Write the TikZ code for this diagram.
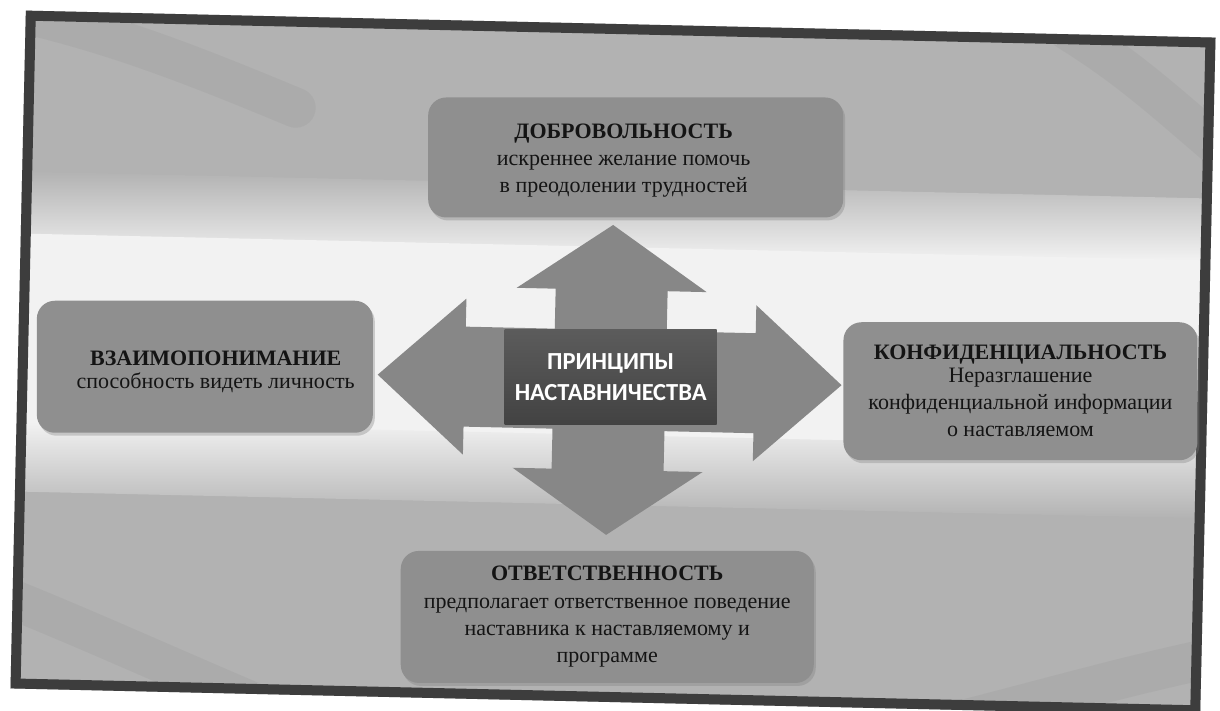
\documentclass[tikz,border=0pt]{standalone}
\usepackage{fontspec}
\setmainfont{Liberation Serif}
\newfontfamily\calib{Carlito}
\usetikzlibrary{shadows}
\definecolor{bggray}{gray}{0.70}
\definecolor{bandwhite}{gray}{0.95}
\definecolor{boxgray}{gray}{0.56}
\definecolor{arrowgray}{gray}{0.53}
\definecolor{centertop}{gray}{0.36}
\definecolor{centerbot}{gray}{0.26}
\definecolor{framegray}{gray}{0.24}
\definecolor{inkdark}{gray}{0.08}
\tikzset{
  infobox/.style={rounded corners=18pt, fill=boxgray, inner sep=0pt,
    drop shadow={opacity=0.35, shadow xshift=2pt, shadow yshift=-3pt}},
  infotext/.style={align=center, text=inkdark, inner sep=0pt,
    font=\fontsize{22}{27}\selectfont},
  swoosh/.style={line width=40pt, draw=black, opacity=0.035, line cap=round},
}
\newcommand{\boxtitle}[1]{{\fontsize{22}{27}\selectfont\bfseries #1}}
\begin{document}
\begin{tikzpicture}[x=1pt,y=-1pt]
\useasboundingbox (0,0) rectangle (1220,711);
\fill[white] (0,0) rectangle (1220,711);
\clip (0,0) rectangle (1220,711);
\begin{scope}[rotate around={-1.3:(613,363)}]
  % slide background
  \fill[bggray] (18,24) rectangle (1208,702);
  \shade[top color=bggray, bottom color=bandwhite] (18,185) rectangle (1208,248);
  \fill[bandwhite] (18,247) rectangle (1208,436);
  \shade[top color=bandwhite, bottom color=bggray] (18,435) rectangle (1208,505);
  % faint swooshes
  \begin{scope}
    \clip (18,24) rectangle (1208,702);
    \draw[swoosh] (10,610) .. controls (90,640) and (160,670) .. (260,710);
    \draw[swoosh] (960,715) .. controls (1050,690) and (1130,665) .. (1215,645);
    \draw[swoosh] (1060,20) .. controls (1120,55) and (1160,90) .. (1215,135);
    \draw[swoosh] (30,30) .. controls (120,50) and (200,80) .. (290,115);
  \end{scope}
  % frame
  \draw[framegray, line width=10pt] (23,29) rectangle (1203,697);

  % quad arrow
  \fill[arrowgray, shift={(610,380)}]
    (0,-155) -- (95,-90) -- (56,-90) -- (56,-50) -- (145,-50) -- (145,-78)
    -- (232,0) -- (145,78) -- (145,50) -- (56,50) -- (56,90) -- (95,90)
    -- (0,155) -- (-95,90) -- (-56,90) -- (-56,50) -- (-145,50) -- (-145,78)
    -- (-232,0) -- (-145,-78) -- (-145,-50) -- (-56,-50) -- (-56,-90)
    -- (-95,-90) -- cycle;

  % boxes
  \node[infobox, minimum width=415pt, minimum height=120pt] (top) at (631,157) {};
  \node[infobox, minimum width=336pt, minimum height=132pt] (left) at (205,376) {};
  \node[infobox, minimum width=354pt, minimum height=138pt] (right) at (1021,382) {};
  \node[infobox, minimum width=413pt, minimum height=132pt] (bottom) at (613,617) {};

  \node[infotext] (toptext) at ([shift={(-12,3)}]top.center)
    {\boxtitle{ДОБРОВОЛЬНОСТЬ}\\искреннее желание помочь\\в преодолении трудностей};
  \node[infotext] (lefttext) at ([shift={(11,5)}]left.center)
    {\boxtitle{ВЗАИМОПОНИМАНИЕ}\\[-4pt]способность видеть личность};
  \node[infotext] (righttext) at (right.center)
    {\boxtitle{КОНФИДЕНЦИАЛЬНОСТЬ}\\[-4pt]Неразглашение\\конфиденциальной информации\\о наставляемом};
  \node[infotext] (bottomtext) at ([shift={(0,0)}]bottom.center)
    {\boxtitle{ОТВЕТСТВЕННОСТЬ}\\[1pt]предполагает ответственное поведение\\наставника к наставляемому и\\программе};

  % center box
  \node[top color=centertop, bottom color=centerbot, minimum width=212pt,
        minimum height=95pt, inner sep=0pt] (center) at (611,377) {};
  \node[text=white, align=center, font=\calib\bfseries\fontsize{24.5}{31}\selectfont]
    (centertext) at (center.center) {ПРИНЦИПЫ\\НАСТАВНИЧЕСТВА};
\end{scope}
\end{tikzpicture}
\end{document}
